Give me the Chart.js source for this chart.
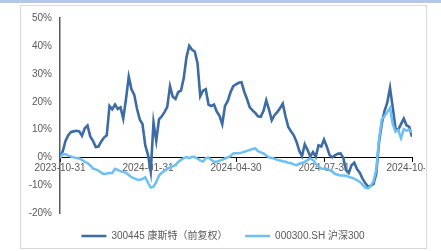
<!DOCTYPE html>
<html>
<head>
<meta charset="utf-8">
<script src="https://cdn.jsdelivr.net/npm/chart.js@4/dist/chart.umd.min.js"></script>
<style>
  html, body { margin: 0; padding: 0; background: #fff; }
  #band { position: absolute; left: 0; top: 0; width: 441px; height: 3px; background: #b4c7e7; }
  #frame { position: absolute; left: 20px; top: 5px; width: 405px; height: 242px; border: 1px solid #d9d9d9; }
  #wrap { position: absolute; left: 0; top: 0; width: 425px; height: 251px; overflow: hidden; }
</style>
</head>
<body>
<div id="band"></div>
<div id="frame"></div>
<div id="wrap"><canvas id="myChart" width="441" height="251"></canvas></div>
<script>
// tick labels on the x axis (one every 32 points)
var xTickLabels = ['2023-10-31', '2024-01-31', '2024-04-30', '2024-07-31', '2024-10-31'];

var seriesNames = ['300445 康斯特（前复权）', '000300.SH 沪深300'];

// 300445 cumulative return, %
var kangsite = [
    0, 2.3, 6, 8, 9.2, 9.4, 9.6, 9.4, 7.8, 10.5,
    11.5, 7.6, 6, 3.8, 4, 5.8, 7.2, 8, 18.5, 17.3,
    19, 17.4, 18, 14, 21, 29, 24.5, 22.5, 17.5, 13.7,
    12, 4.4, 1, -5, 12.6, 6, 13.7, 14.8, 16.3, 18.2,
    25.6, 21.8, 21, 23.5, 24, 28.5, 36, 40, 38.6, 38,
    33.8, 22, 24, 24.5, 19, 18.5, 19, 16.5, 15, 12,
    18.5, 20.3, 23.4, 25.6, 26.2, 26.8, 27, 23.6, 21, 18,
    16.9, 16, 14.8, 14.6, 16.8, 20.5, 17.2, 13.4, 15.2, 16.3,
    17.7, 19.3, 14.8, 11, 9.4, 8, 5.7, 2.5, 0.5, 4.8,
    2.8, 0.4, 2, 0.3, 4.4, 4, 6.5, 4, 1, 0.1,
    0.8, 1.4, 1.5, 0, -4.5, -5.5, -2.7, -1.8, -4.1, -5.4,
    -7.5, -9.1, -10.4, -10.1, -9.4, -5.8, 5.5, 12.1, 16.7, 19.7,
    25, 18, 10.5, 10, 12, 14, 11.6, 11, 7.5
];

// 000300.SH cumulative return, %
var hs300 = [
    0, 1.3, 1.2, 0.7, 0.4, 0.1, -0.1, -0.3, -0.8, -1.5,
    -1.9, -2.8, -3.9, -4.2, -4.6, -5.4, -5.9, -5.7, -5.5, -5.5,
    -4, -4.4, -4.8, -5.2, -5.4, -6.2, -7, -7.4, -7.8, -8,
    -7.6, -7, -9, -10.7, -10.4, -8.7, -6.5, -5.4, -4.7, -4,
    -3.4, -3.1, -2.6, -1.5, -0.8, -0.2, 0.2, -0.2, 0.3, 0.2,
    -0.4, -1, -1.4, -0.2, 0, -0.8, -1.5, -1.5, -1.1, -0.8,
    -0.3, 0.1, 0.5, 1.5, 1.6, 1.6, 1.8, 2.1, 2.4, 2.8,
    3.1, 3.3, 2.3, 1.9, 1.5, 0.8, 0.1, -0.1, -0.4, -0.8,
    -1, -1.3, -1.5, -1.8, -2, -2.4, -2.7, -2.2, -1.9, -1.5,
    -0.9, -0.3, -0.8, -2.2, -3.2, -3.9, -4, -4, -4.5, -5,
    -5.8, -6.1, -6.4, -6.4, -6.5, -6.9, -7.2, -7.5, -8.1, -8.7,
    -9.7, -10.7, -11, -10.1, -8.5, -4.3, 6.5, 13.7, 14.8, 16.3,
    17.8, 12, 9.3, 9.9, 7, 10.2, 9.7, 10, 9
];

function toPoints(arr) {
    return arr.map(function (v, i) { return { x: i, y: v }; });
}

// nudge the legend a few px right so it sits under the plot like the original
var legendShift = {
    id: 'legendShift',
    afterLayout: function (c) {
        c.legend.left += 5;
        c.legend.right += 5;
    }
};

var ctx = document.getElementById('myChart').getContext('2d');
var chart = new Chart(ctx, {
    type: 'line',
    data: {
        datasets: [
            {
                label: seriesNames[0],
                data: toPoints(kangsite),
                borderColor: '#3d6ba6',
                backgroundColor: '#3d6ba6',
                borderWidth: 2.6,
                pointRadius: 0,
                tension: 0,
                order: 2
            },
            {
                label: seriesNames[1],
                data: toPoints(hs300),
                borderColor: '#6cc0f2',
                backgroundColor: '#6cc0f2',
                borderWidth: 2.5,
                pointRadius: 0,
                tension: 0,
                order: 1
            }
        ]
    },
    options: {
        responsive: false,
        animation: false,
        devicePixelRatio: 1,
        layout: {
            padding: { left: 24, right: 29, top: 18, bottom: 0 }
        },
        scales: {
            x: {
                type: 'linear',
                min: 0,
                max: 128,
                position: { y: 0 },
                afterFit: function (s) { s.paddingLeft = 0; s.paddingRight = 0; },
                afterBuildTicks: function (s) {
                    s.ticks = xTickLabels.map(function (t, i) { return { value: i * 32 }; });
                },
                grid: { drawOnChartArea: false, drawTicks: true, tickLength: 4, color: '#000' },
                border: { display: true, color: '#000', width: 1 },
                ticks: {
                    autoSkip: false,
                    maxRotation: 0,
                    padding: 1,
                    color: '#595959',
                    font: { family: 'Liberation Sans', size: 10 },
                    callback: function (v) { return xTickLabels[Math.round(v / 32)]; }
                }
            },
            y: {
                min: -20,
                max: 50,
                afterFit: function (s) { s.width = 36; },
                grid: { drawOnChartArea: false, drawTicks: false },
                border: { display: true, color: '#595959', width: 1.5 },
                ticks: {
                    stepSize: 10,
                    padding: 8,
                    color: '#595959',
                    font: { family: 'Liberation Sans', size: 10 },
                    callback: function (v) { return v + '%'; }
                }
            }
        },
        plugins: {
            legend: {
                position: 'bottom',
                labels: {
                    usePointStyle: true,
                    pointStyle: 'line',
                    pointStyleWidth: 25,
                    boxWidth: 25,
                    padding: 17.5,
                    color: '#595959',
                    font: { family: "'Liberation Sans', 'Noto Sans CJK SC'", size: 10 },
                    sort: function (a, b) { return a.datasetIndex - b.datasetIndex; }
                }
            },
            tooltip: { enabled: false }
        }
    },
    plugins: [legendShift]
});
</script>
</body>
</html>
